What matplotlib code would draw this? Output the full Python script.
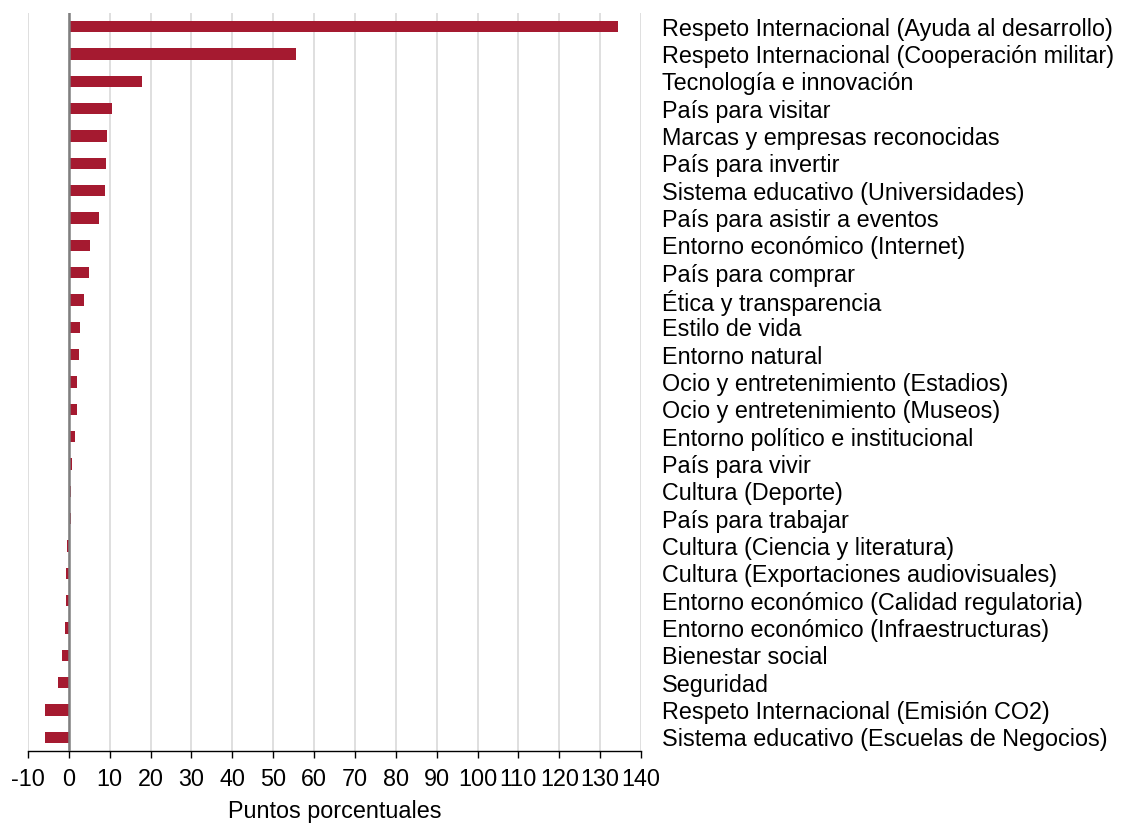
import matplotlib
matplotlib.use('Agg')
import matplotlib.pyplot as plt
import numpy as np

# Change in percentage points per image attribute, largest first
categories = [
    'Respeto Internacional (Ayuda al desarrollo)',
    'Respeto Internacional (Cooperación militar)',
    'Tecnología e innovación',
    'País para visitar',
    'Marcas y empresas reconocidas',
    'País para invertir',
    'Sistema educativo (Universidades)',
    'País para asistir a eventos',
    'Entorno económico (Internet)',
    'País para comprar',
    'Ética y transparencia',
    'Estilo de vida',
    'Entorno natural',
    'Ocio y entretenimiento (Estadios)',
    'Ocio y entretenimiento (Museos)',
    'Entorno político e institucional',
    'País para vivir',
    'Cultura (Deporte)',
    'País para trabajar',
    'Cultura (Ciencia y literatura)',
    'Cultura (Exportaciones audiovisuales)',
    'Entorno económico (Calidad regulatoria)',
    'Entorno económico (Infraestructuras)',
    'Bienestar social',
    'Seguridad',
    'Respeto Internacional (Emisión CO2)',
    'Sistema educativo (Escuelas de Negocios)',
]
values = [134.3, 55.5, 17.8, 10.5, 9.3, 9.0, 8.9, 7.4, 5.1, 5.0,
          3.6, 2.8, 2.4, 2.0, 2.0, 1.6, 0.8, 0.4, 0.4, -0.4,
          -0.6, -0.6, -0.9, -1.7, -2.6, -5.8, -5.8]
x_ticks = list(range(-10, 141, 10))

plt.rcParams['font.family'] = ['Liberation Sans', 'DejaVu Sans']
fs = 16.8

fig = plt.figure(figsize=(11.28, 8.25), dpi=100)
ax = fig.add_axes([28 / 1128, 1 - 751 / 825, (641 - 28) / 1128, (751 - 13) / 825])

y = np.arange(len(categories))
ax.barh(y, values, height=0.42, color='#A51A30', zorder=3)
ax.axvline(0, color='#7f7f7f', linewidth=1.8, zorder=4)

ax.set_xlim(-10, 140)
ax.set_ylim(len(categories) - 0.5, -0.5)
ax.set_xticks(x_ticks)
ax.set_xticklabels([str(t) for t in x_ticks], fontsize=fs)
ax.grid(axis='x', color='#d9d9d9', linewidth=1.2, zorder=0)

# Category names sit to the right of the plot area
ax.yaxis.tick_right()
ax.set_yticks(y)
ax.set_yticklabels(categories, fontsize=fs)
ax.tick_params(axis='y', length=0, pad=15)
ax.tick_params(axis='x', length=5, width=1, pad=7, direction='out')

for side in ['left', 'right', 'top']:
    ax.spines[side].set_visible(False)
ax.spines['bottom'].set_linewidth(1)

ax.set_xlabel('Puntos porcentuales', fontsize=fs, labelpad=7)

fig.savefig('out.png', dpi=100)
